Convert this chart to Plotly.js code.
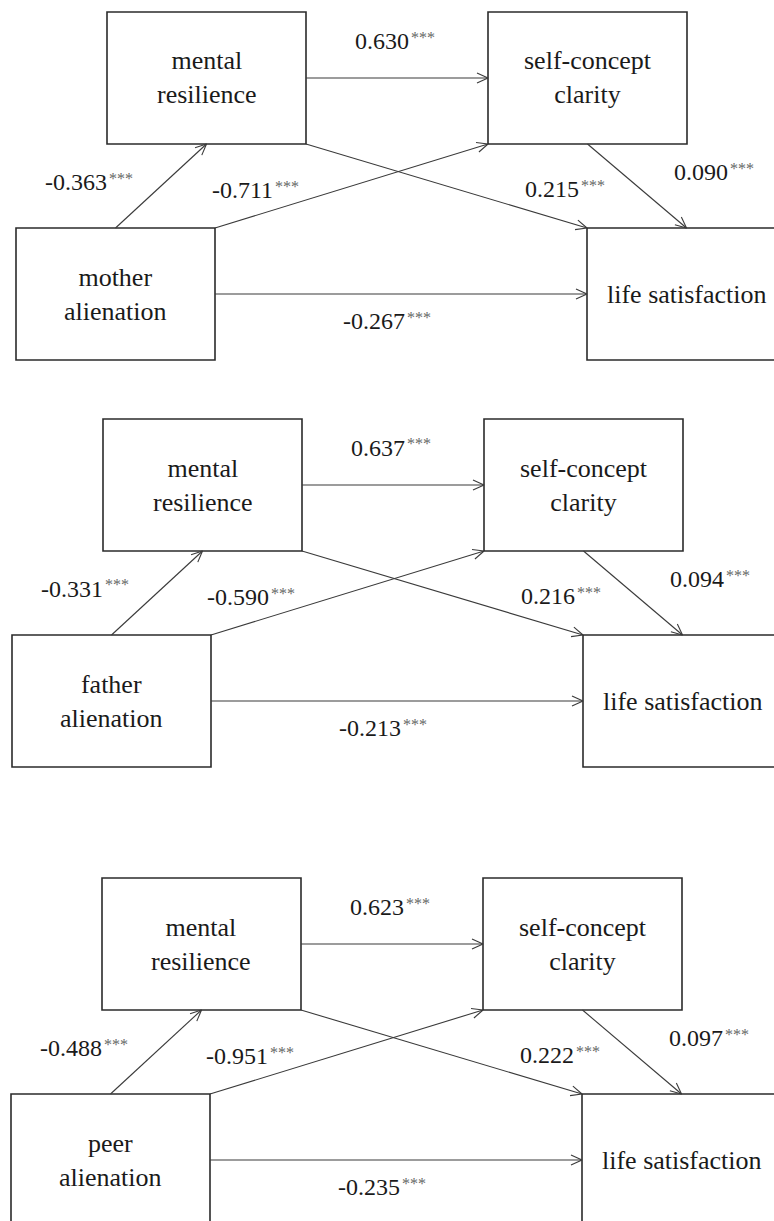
<!DOCTYPE html>
<html>
<head>
<meta charset="utf-8">
<script src="https://cdn.plot.ly/plotly-3.0.1.min.js"></script>
<style>
html,body{margin:0;padding:0;background:#fff;font-family:"Liberation Serif";}
#chart{width:774px;height:1221px;}
#fontwarm{position:absolute;left:0;top:0;font-family:"Liberation Serif";font-size:24px;color:#fff;z-index:-1;}
</style>
</head>
<body>
<div id="fontwarm">&nbsp;</div>
<div id="chart"></div>
<script>
// ---- data ----
const sources = ["mother<br>alienation", "father<br>alienation", "peer<br>alienation"];
const mediator1 = "mental<br>resilience";
const mediator2 = "self-concept<br>clarity";
const outcome = "life satisfaction";
const coefXtoMR  = [-0.363, -0.331, -0.488];
const coefMRtoSC = [0.630, 0.637, 0.623];
const coefXtoSC  = [-0.711, -0.590, -0.951];
const coefMRtoLS = [0.215, 0.216, 0.222];
const coefSCtoLS = [0.090, 0.094, 0.097];
const coefXtoLS  = [-0.267, -0.213, -0.235];
const sigMark = ["***", "***", "***"];

// ---- layout geometry (pixels) ----
const FONT = "Liberation Serif";
const panelOrigins = [[107, 12], [103, 419], [102, 878]];
const boxW = 199, boxH = 132;
const rel = { MR: [0, 0], SC: [381, 0], X: [-91, 216], LS: [480, 216] };
const labelPos = {
  XtoMR: [-18, 170], MRtoSC: [288, 29], XtoSC: [148, 178],
  MRtoLS: [458, 177], SCtoLS: [607, 160], XtoLS: [280, 309]
};
const numSize = 24, starSize = 16, boxSize = 26;

const shapes = [];
const annotations = [];
const boxLine = { color: "#2b2b2b", width: 1.6 };
const arrowLine = { color: "#3a3a3a", width: 1.1 };

function line(x0, y0, x1, y1, l) {
  shapes.push({ type: "line", xref: "paper", yref: "paper", x0: x0 / 774, y0: 1 - y0 / 1221,
    x1: x1 / 774, y1: 1 - y1 / 1221, line: l });
}
function arrow(p, q) {
  line(p[0], p[1], q[0], q[1], arrowLine);
  const dx = q[0] - p[0], dy = q[1] - p[1];
  const len = Math.hypot(dx, dy), ux = dx / len, uy = dy / len;
  const L = 11, W = 5;
  const bx = q[0] - ux * L, by = q[1] - uy * L;
  line(q[0], q[1], bx - uy * W, by + ux * W, arrowLine);
  line(q[0], q[1], bx + uy * W, by - ux * W, arrowLine);
}
function ann(x, y, text, xanchor, size, color, yshift) {
  annotations.push({ xref: "paper", yref: "paper", x: x / 774, y: 1 - y / 1221, text,
    showarrow: false, xanchor, yanchor: "middle", yshift: yshift || 0,
    font: { family: FONT, size, color } });
}
function addCoef(cx, cy, v, s) {
  const txt = v.toFixed(3);
  const numW = 4 * 0.5 * numSize + 0.25 * numSize + (v < 0 ? 0.333 * numSize : 0);
  const starW = s.length * 0.5 * starSize;
  const xj = cx + (numW - starW) / 2;
  ann(xj + 1, cy, txt, "right", numSize, "#1a1a1a", 0);
  ann(xj - 1, cy, s, "left", starSize, "#666666", 4);
}

for (let i = 0; i < 3; i++) {
  const [ox, oy] = panelOrigins[i];
  const box = {};
  for (const k of ["MR", "SC", "X", "LS"]) {
    const x0 = ox + rel[k][0], y0 = oy + rel[k][1];
    box[k] = { x0, y0, x1: x0 + boxW, y1: y0 + boxH, cx: x0 + boxW / 2, cy: y0 + boxH / 2 };
    shapes.push({ type: "rect", xref: "paper", yref: "paper", x0: x0 / 774, y0: 1 - y0 / 1221,
      x1: (x0 + boxW) / 774, y1: 1 - (y0 + boxH) / 1221, line: boxLine, fillcolor: "rgba(255,255,255,0)" });
  }
  const names = { MR: mediator1, SC: mediator2, X: sources[i], LS: outcome };
  for (const k in names) ann(box[k].cx, box[k].cy, names[k], "center", boxSize, "#1a1a1a", 0);
  const B = box;
  arrow([B.X.cx, B.X.y0], [B.MR.cx, B.MR.y1]);
  arrow([B.MR.x1, B.MR.cy], [B.SC.x0, B.SC.cy]);
  arrow([B.X.x1, B.X.y0], [B.SC.x0, B.SC.y1]);
  arrow([B.MR.x1, B.MR.y1], [B.LS.x0, B.LS.y0]);
  arrow([B.SC.cx, B.SC.y1], [B.LS.cx, B.LS.y0]);
  arrow([B.X.x1, B.X.cy], [B.LS.x0, B.LS.cy]);

  const coefs = { XtoMR: coefXtoMR[i], MRtoSC: coefMRtoSC[i], XtoSC: coefXtoSC[i],
    MRtoLS: coefMRtoLS[i], SCtoLS: coefSCtoLS[i], XtoLS: coefXtoLS[i] };
  for (const k in coefs) addCoef(ox + labelPos[k][0], oy + labelPos[k][1], coefs[k], sigMark[i]);
}

const layout = {
  width: 774, height: 1221,
  margin: { l: 0, r: 0, t: 0, b: 0 },
  paper_bgcolor: "#ffffff", plot_bgcolor: "#ffffff",
  xaxis: { visible: false }, yaxis: { visible: false },
  showlegend: false,
  shapes, annotations
};
function draw() { Plotly.newPlot("chart", [], layout, { staticPlot: true }); }
if (document.fonts && document.fonts.load) {
  document.fonts.load('24px "Liberation Serif"').then(draw, draw);
} else { draw(); }
</script>
</body>
</html>
